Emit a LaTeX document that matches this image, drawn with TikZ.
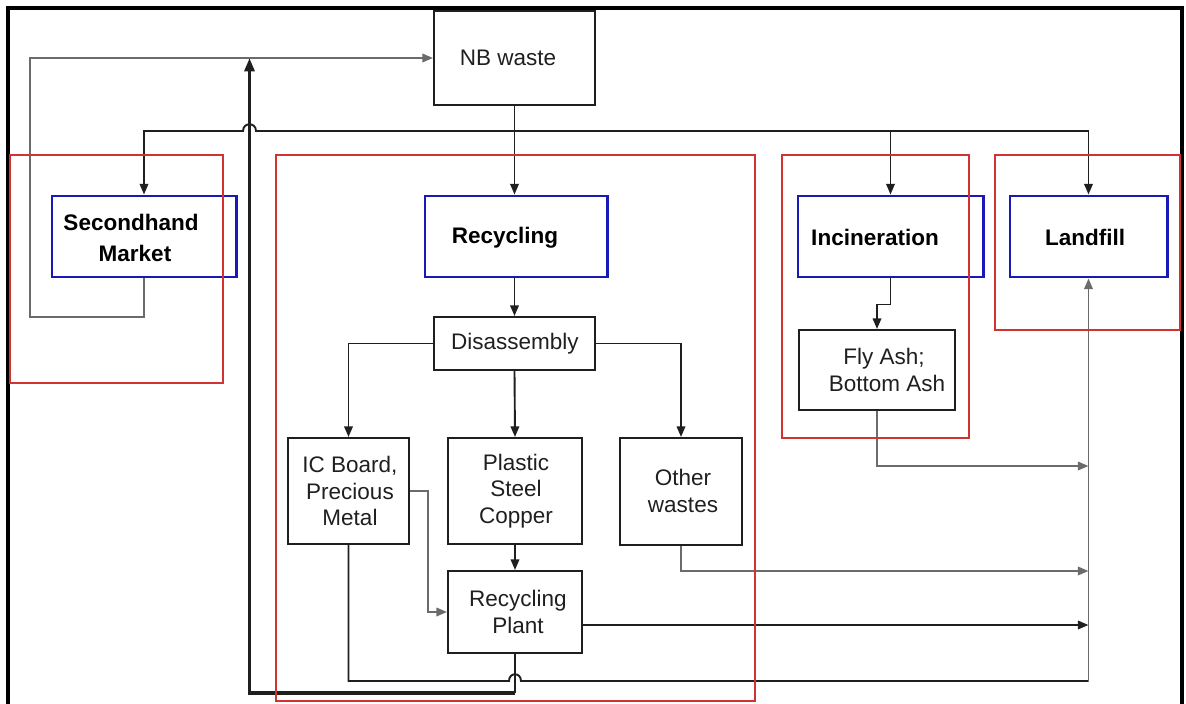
\documentclass[tikz,border=0pt]{standalone}
\usepackage{fontspec}
\setmainfont{Liberation Sans}
\usetikzlibrary{arrows.meta}
\definecolor{regionred}{rgb}{0.82,0.2,0.2}
\definecolor{stageblue}{rgb}{0.1,0.1,0.72}
\definecolor{ink}{gray}{0.12}
\definecolor{softink}{gray}{0.42}
\begin{document}
\begin{tikzpicture}[x=0.025cm,y=-0.025cm,
  font=\fontsize{16}{19}\selectfont,
  box/.style={draw=ink, line width=1.4pt, inner sep=0pt},
  stage/.style={draw=stageblue, line width=2.1pt, inner sep=0pt},
  region/.style={draw=regionred, line width=1.1pt},
  txt/.style={text=ink, align=center, inner sep=0pt},
  stagetxt/.style={text=black, align=center, inner sep=0pt, font=\fontsize{16}{22}\bfseries\selectfont},
  conn/.style={draw=ink, line width=1.35pt},
  connlight/.style={draw=softink, line width=1.35pt},
  tip/.style={-{Triangle[length=7.5pt,width=6pt]}},
  bigtip/.style={-{Triangle[length=9.5pt,width=7pt]}},
]
\useasboundingbox (0,0) rectangle (1186,704);

% outer frame (open at the bottom)
\draw[line width=2.2pt] (8,706) -- (8,8) -- (1182,8) -- (1182,706);

% process boxes
\node[box, minimum width=4.025cm, minimum height=2.35cm] (nb) at (514.5,58) {};
\node[stage, minimum width=4.6cm, minimum height=2.025cm] (sh) at (144,236.5) {};
\node[stage, minimum width=4.55cm, minimum height=2.025cm] (rec) at (516,236.5) {};
\node[stage, minimum width=4.625cm, minimum height=2.025cm] (inc) at (890.5,236.5) {};
\node[stage, minimum width=3.925cm, minimum height=2.025cm] (lf) at (1088.5,236.5) {};
\node[box, minimum width=4.025cm, minimum height=1.325cm] (dis) at (514.5,343.5) {};
\node[box, minimum width=3.025cm, minimum height=2.65cm] (ic) at (348.5,491) {};
\node[box, minimum width=3.35cm, minimum height=2.65cm] (pl) at (515,491) {};
\node[box, minimum width=3.05cm, minimum height=2.675cm] (ot) at (681,491.5) {};
\node[box, minimum width=3.35cm, minimum height=2.05cm] (pp) at (515,612) {};
\node[box, minimum width=3.9cm, minimum height=2.0cm] (fa) at (877,370) {};

% labels
\node[txt] (t-nb) at (508,58) {NB waste};
\node[stagetxt] (t-sh) at (131,238) {Secondhand\\\hspace*{0.2cm}Market};
\node[stagetxt] (t-rec) at (505,238) {Recycling};
\node[stagetxt] (t-inc) at (875,237) {Incineration};
\node[stagetxt] (t-lf) at (1085,237) {Landfill};
\node[txt] (t-dis) at (515,344) {Disassembly};
\node[txt] (t-ic) at (350,491) {IC Board,\\Precious\\Metal};
\node[txt] (t-pl) at (516,491) {Plastic\\Steel\\Copper};
\node[txt] (t-ot) at (683,491) {Other\\wastes};
\node[txt] (t-pp) at (518,612) {Recycling\\Plant};
\node[txt] (t-fa) at (884,370) {Fly Ash;\\\hspace*{0.15cm}Bottom Ash};

% junctions and collector points
\coordinate (j) at (514.5,131);
\coordinate (cA) at (1088.5,466);
\coordinate (cB) at (1088.5,571);
\coordinate (cC) at (1088.5,625);
\coordinate (cD) at (1088.5,681);
\coordinate (tk) at (249.5,58);
\coordinate (tkb) at (249.5,693);

% NB waste to the four treatment routes
\draw[conn,tip] (nb.south) -- (nb.south |- rec.north);
\draw[conn,tip] (j) -- (256,131) .. controls (256,122) and (243,122) .. (243,131)
  -- (sh.north |- j) -- (sh.north);
\draw[conn,tip] (j) -| (inc.north);
\draw[conn,tip] (j) -| (lf.north);

% secondhand market loops back to NB waste
\draw[connlight,tip] (sh.south) |- (30,317) -- (30,58) -- (nb.west);

% recycling chain
\draw[conn,tip] (dis.north |- rec.south) -- (dis.north);
\draw[conn,tip] (dis.west) -| (ic.north);
\draw[conn,tip] (dis.south) -- (pl.north);
\draw[conn,tip] (dis.east) -| (ot.north);
\draw[conn,tip] (pl.south) -- (pp.north);
\draw[connlight,tip] (ic.east) -- ++(18,0) |- (pp.west);

% recovered material returns to NB waste
\draw[conn] (pp.south) -- (pp.south |- tkb);
\draw[line width=2.4pt, draw=ink, bigtip] (pp.south |- tkb) -- (tkb) -- (tk);

% incineration residues
\draw[conn,tip] (inc.south) -- ++(0,26) -| (fa.north);
\draw[connlight,tip] (fa.south) |- (cA);

% flows into landfill
\draw[connlight,tip] (ot.south) |- (cB);
\draw[conn,tip] (pp.east |- cC) -- (cC);
\draw[conn] (ic.south) -- (ic.south |- cD) -- (509,681)
  .. controls (509,672) and (521,672) .. (521,681) -- (cD);
\draw[connlight,tip] (cD) -- (lf.south);

% treatment regions
\draw[region] (10,155) rectangle (223,383);
\draw[region] (276,155) rectangle (755,701);
\draw[region] (782,155) rectangle (969,438);
\draw[region] (995,155) rectangle (1180,330);
\end{tikzpicture}
\end{document}
